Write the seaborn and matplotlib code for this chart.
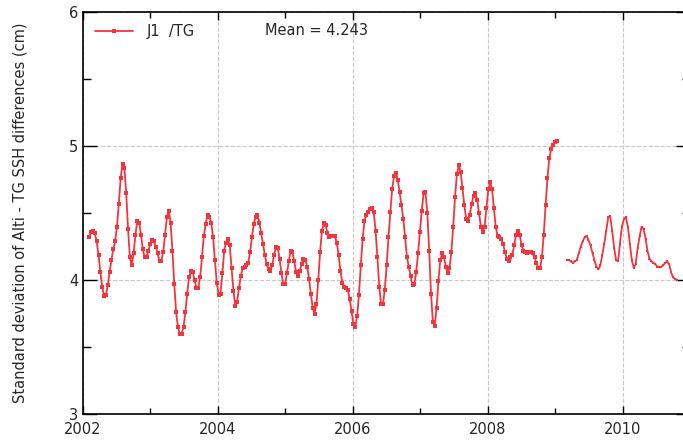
import numpy as np
import pandas as pd
import matplotlib
matplotlib.use("Agg")
import matplotlib.pyplot as plt
from matplotlib.ticker import MultipleLocator
import seaborn as sns

# J1 / TG, 10-day cycles, first phase
seg1_start = "2002-02-04"
seg1_vals = [
    4.32, 4.36, 4.37, 4.35, 4.29, 4.19, 4.06, 3.95, 3.88, 3.89,
    3.96, 4.06, 4.15, 4.23, 4.29, 4.40, 4.57, 4.76, 4.87, 4.84,
    4.65, 4.38, 4.17, 4.11, 4.20, 4.34, 4.44, 4.43, 4.34, 4.23,
    4.17, 4.17, 4.22, 4.27, 4.30, 4.29, 4.25, 4.20, 4.14, 4.14,
    4.21, 4.34, 4.47, 4.52, 4.43, 4.22, 3.97, 3.76, 3.65, 3.60,
    3.60, 3.65, 3.76, 3.90, 4.02, 4.07, 4.06, 4.00, 3.94, 3.94,
    4.02, 4.17, 4.33, 4.42, 4.49, 4.47, 4.43, 4.32, 4.15, 3.98,
    3.89, 3.90, 4.05, 4.22, 4.28, 4.31, 4.26, 4.09, 3.92, 3.81,
    3.84, 3.94, 4.03, 4.09, 4.10, 4.11, 4.13, 4.21, 4.32, 4.42,
    4.47, 4.49, 4.43, 4.35, 4.27, 4.19, 4.12, 4.08, 4.07, 4.11,
    4.19, 4.25, 4.24, 4.16, 4.05, 3.97, 3.97, 4.05, 4.14, 4.22,
    4.21, 4.14, 4.06, 4.03, 4.07, 4.12, 4.16, 4.15, 4.10, 4.01,
    3.90, 3.79, 3.75, 3.82, 4.00, 4.21, 4.37, 4.43, 4.41, 4.35,
    4.32, 4.33, 4.33, 4.33, 4.28, 4.19, 4.07, 3.98, 3.95, 3.94,
    3.93, 3.86, 3.77, 3.67, 3.65, 3.73, 3.89, 4.11, 4.31, 4.44,
    4.49, 4.51, 4.53, 4.54, 4.51, 4.37, 4.17, 3.95, 3.82, 3.82,
    3.93, 4.11, 4.32, 4.51, 4.68, 4.78, 4.80, 4.75, 4.66, 4.56,
    4.46, 4.32, 4.17, 4.10, 4.03, 3.96, 3.97, 4.06, 4.20, 4.36,
    4.52, 4.65, 4.66, 4.50, 4.22, 3.90, 3.69, 3.66, 3.79, 3.99,
    4.15, 4.20, 4.17, 4.10, 4.05, 4.09, 4.21, 4.40, 4.62, 4.79,
    4.86, 4.81, 4.69, 4.56, 4.46, 4.44, 4.49, 4.57, 4.63, 4.65,
    4.60, 4.50, 4.40, 4.36, 4.40, 4.54, 4.68, 4.73, 4.68, 4.54,
    4.40, 4.33, 4.32, 4.31, 4.27, 4.21, 4.16, 4.14, 4.17, 4.19,
    4.26, 4.34, 4.37, 4.34, 4.26, 4.22, 4.21, 4.20, 4.21, 4.21,
    4.20, 4.17, 4.13, 4.09, 4.09, 4.17, 4.34, 4.56, 4.76, 4.91,
    4.98, 5.01, 5.03, 5.04,
]

# second phase (2009-2010)
seg2_start = "2009-03-06"
seg2_end = "2010-10-22"
seg2_vals = [
    4.15, 4.15, 4.14, 4.13, 4.14, 4.15, 4.20, 4.25, 4.29, 4.32,
    4.33, 4.30, 4.26, 4.20, 4.15, 4.10, 4.08, 4.11, 4.19, 4.27,
    4.37, 4.47, 4.48, 4.37, 4.24, 4.15, 4.14, 4.27, 4.40, 4.46,
    4.47, 4.40, 4.27, 4.15, 4.09, 4.12, 4.24, 4.33, 4.40, 4.38,
    4.31, 4.22, 4.16, 4.14, 4.13, 4.12, 4.10, 4.10, 4.10, 4.11,
    4.13, 4.14, 4.12, 4.06, 4.02, 4.01, 4.00,
]

mean_txt = "Mean = 4.243"
label = "J1  /TG"
ylab = "Standard deviation of Alti - TG SSH differences (cm)"


def decyear(d):
    return d.year + (d.dayofyear - 1) / 365.25


d1 = pd.date_range(seg1_start, periods=len(seg1_vals), freq="10D")
d2 = pd.date_range(seg2_start, seg2_end, periods=len(seg2_vals))
df1 = pd.DataFrame({"year": decyear(d1), "std": seg1_vals})
df2 = pd.DataFrame({"year": decyear(d2), "std": seg2_vals})

sns.set_style("ticks")
plt.rcParams["font.family"] = ["DejaVu Sans"]

red = "#f2353d"
fig = plt.figure(figsize=(6.83, 4.40), dpi=100)
# right edge of the frame falls just outside the picture
ax = fig.add_axes([0.1215, 0.059, 0.889, 0.913])

sns.lineplot(data=df1, x="year", y="std", ax=ax, color=red, lw=1.3,
             marker="s", markersize=2.6, markeredgewidth=0, label=label)
sns.lineplot(data=df2, x="year", y="std", ax=ax, color=red, lw=1.3,
             marker="s", markersize=1.9, markeredgewidth=0)

ax.set_xlim(2002, 2011)
ax.set_ylim(3, 6)
ax.xaxis.set_major_locator(MultipleLocator(2))
ax.xaxis.set_minor_locator(MultipleLocator(1))
ax.yaxis.set_major_locator(MultipleLocator(1))
ax.yaxis.set_minor_locator(MultipleLocator(0.5))
ax.xaxis.set_major_formatter(plt.FuncFormatter(lambda v, p: "%d" % v))

ax.tick_params(axis="both", which="both", direction="in", top=True, right=True,
               labelsize=10.5, color="black", width=1)
ax.tick_params(axis="y", which="major", length=10)
ax.tick_params(axis="y", which="minor", length=6)
ax.tick_params(axis="x", which="major", length=6, pad=6)
ax.tick_params(axis="x", which="minor", length=4)
for s in ax.spines.values():
    s.set_linewidth(1.2)
    s.set_color("black")

ax.grid(True, which="major", ls="--", color="#c8c8c8", lw=0.8)
ax.set_xlabel("")
ax.set_ylabel(ylab, fontsize=10.5)
ax.yaxis.set_label_coords(-0.092, 0.5)

leg = ax.legend(loc="upper left", frameon=False, fontsize=10.5, handlelength=2.6,
                borderaxespad=0.4, handletextpad=1.0)
ax.text(0.30, 0.955, mean_txt, transform=ax.transAxes, fontsize=10.5,
        va="center", ha="left")

fig.savefig("out.png", dpi=100)
